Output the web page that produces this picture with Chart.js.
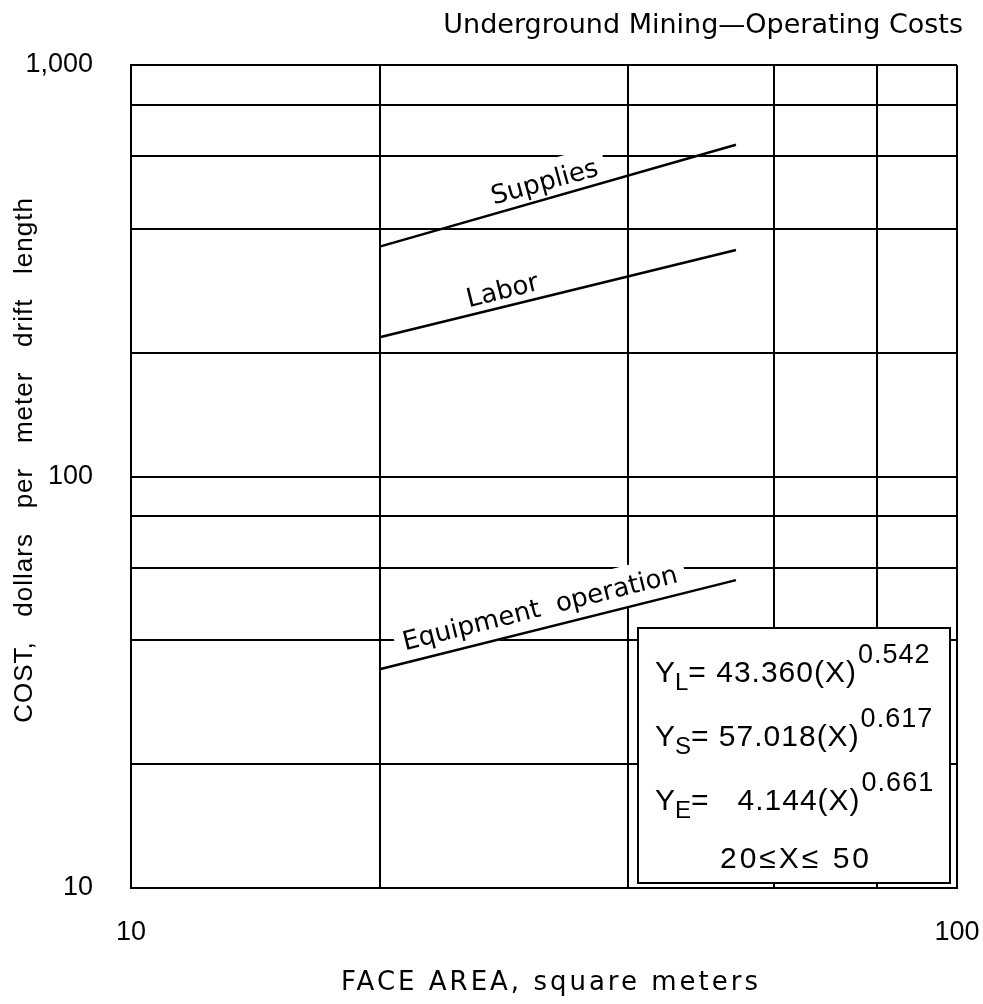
<!DOCTYPE html>
<html>
<head>
<meta charset="utf-8">
<title>Underground Mining—Operating Costs</title>
<script src="https://cdn.jsdelivr.net/npm/chart.js@4.4.1/dist/chart.umd.min.js"></script>
<style>
  html, body { margin: 0; padding: 0; background: #fff; }
  #wrap { width: 983px; height: 1004px; position: relative; }
</style>
</head>
<body>
<div id="wrap"><canvas id="chart"></canvas></div>
<script>
// ─── Data ──────────────────────────────────────────────────
const faceArea  = [20, 54];     // square meters, start / end of each fitted line
const labor     = [218, 355];   // $ per meter drift length
const supplies  = [362, 640];
const equipment = [34, 56];

const xGrid = [10, 20, 40, 60, 80, 100];
const yGrid = [10, 20, 40, 60, 80, 100, 200, 400, 600, 800, 1000];
const xTickLabels = { 10: '10', 100: '100' };
const yTickLabels = { 10: '10', 100: '100', 1000: '1,000' };

// text written along each line: [text, x, y, angle]
const lineLabels = [
  ['Supplies', 31.7, 516, -15.5],
  ['Labor', 28.2, 281, -14],
  ['Equipment  operation', 31.3, 47.5, -14],
];

// equation box: [subscript, body, exponent]
const equations = [
  ['L', '= 43.360(X)', '0.542'],
  ['S', '= 57.018(X)', '0.617'],
  ['E', '=   4.144(X)', '0.661'],
];
const rangeNote = '20\u2264X\u2264 50';

// ─── Styling ───────────────────────────────────────────────
const INK = '#000';
const PLOT_FONT = "'DejaVu Sans', sans-serif";
const HELV = "'Liberation Sans', Arial, sans-serif";

function toPoints(ys) {
  return ys.map((v, i) => ({ x: faceArea[i], y: v }));
}

function lineSet(label, ys) {
  return {
    label,
    data: toPoints(ys),
    showLine: true,
    borderColor: INK,
    borderWidth: 2.5,
    pointRadius: 0,
    fill: false,
  };
}

// labels along the lines, with white backing that breaks the grid
const lineLabelPlugin = {
  id: 'lineLabels',
  beforeDatasetsDraw(chart) {
    const { ctx, scales: { x, y } } = chart;
    ctx.save();
    ctx.font = `26px ${PLOT_FONT}`;
    lineLabels.forEach(([text, xv, yv, ang]) => {
      const px = x.getPixelForValue(xv);
      const py = y.getPixelForValue(yv);
      ctx.save();
      ctx.translate(px, py);
      ctx.rotate(ang * Math.PI / 180);
      const w = ctx.measureText(text).width;
      ctx.fillStyle = '#fff';
      ctx.fillRect(-w / 2 - 8, -22, w + 16, 42);
      ctx.fillStyle = INK;
      ctx.textAlign = 'center';
      ctx.textBaseline = 'middle';
      ctx.fillText(text, 0, 0);
      ctx.restore();
    });
    ctx.restore();
  }
};

// equation box, titles
const annotationPlugin = {
  id: 'annotations',
  afterDatasetsDraw(chart) {
    const { ctx, chartArea: ca } = chart;
    ctx.save();

    // equation box
    const left = ca.right - 319, top = ca.top + 563;
    const right = ca.right - 7, bottom = ca.bottom - 5;
    ctx.fillStyle = '#fff';
    ctx.fillRect(left, top, right - left, bottom - top);
    ctx.strokeStyle = INK;
    ctx.lineWidth = 2;
    ctx.strokeRect(left, top, right - left, bottom - top);

    ctx.fillStyle = INK;
    ctx.textAlign = 'left';
    ctx.textBaseline = 'alphabetic';
    equations.forEach(([sub, body, sup], i) => {
      const base = top + 54 + i * 64;
      let cx = left + 17;
      ctx.font = `30px ${HELV}`;
      ctx.letterSpacing = '0px';
      ctx.fillText('Y', cx, base);
      cx += ctx.measureText('Y').width;
      ctx.font = `24px ${HELV}`;
      ctx.fillText(sub, cx, base + 8);
      cx += ctx.measureText(sub).width;
      ctx.font = `30px ${HELV}`;
      ctx.letterSpacing = '1px';
      ctx.fillText(body, cx, base);
      cx += ctx.measureText(body).width;
      ctx.font = `27px ${HELV}`;
      ctx.fillText(sup, cx + 1, base - 19);
    });
    ctx.font = `30px ${HELV}`;
    ctx.letterSpacing = '3px';
    ctx.textAlign = 'center';
    ctx.fillText(rangeNote, (left + right) / 2 + 2, top + 240);

    // chart title
    ctx.letterSpacing = '0px';
    ctx.font = `27px ${PLOT_FONT}`;
    ctx.textAlign = 'right';
    ctx.fillText('Underground Mining\u2014Operating Costs', 963, 33);

    // x axis title
    ctx.font = `26px ${PLOT_FONT}`;
    ctx.letterSpacing = '3px';
    ctx.textAlign = 'center';
    ctx.fillText('FACE AREA, square meters', 551, 990);

    // y axis title
    ctx.font = `26px ${HELV}`;
    ctx.letterSpacing = '1px';
    ctx.translate(25, 460);
    ctx.rotate(-Math.PI / 2);
    ctx.textBaseline = 'middle';
    ctx.fillText('COST,   dollars   per   meter   drift   length', 0, 0);

    ctx.restore();
  }
};

const gridOpts = { color: INK, lineWidth: 2, drawTicks: false };
const borderOpts = { display: true, color: INK, width: 2 };
const tickFont = { family: HELV, size: 27 };

new Chart(document.getElementById('chart'), {
  type: 'scatter',
  data: {
    datasets: [
      lineSet('Supplies', supplies),
      lineSet('Labor', labor),
      lineSet('Equipment operation', equipment),
    ]
  },
  options: {
    responsive: true,
    maintainAspectRatio: false,
    animation: false,
    layout: { padding: { left: 0, right: 26, top: 65, bottom: 0 } },
    plugins: {
      legend: { display: false },
      tooltip: { enabled: false },
      title: { display: false },
    },
    scales: {
      x: {
        type: 'logarithmic',
        min: 10, max: 100,
        grid: gridOpts,
        border: borderOpts,
        afterBuildTicks: s => { s.ticks = xGrid.map(v => ({ value: v })); },
        afterFit: s => { s.height = 116; s.paddingLeft = 0; s.paddingRight = 0; },
        ticks: {
          autoSkip: false, maxRotation: 0, color: INK, font: tickFont, padding: 28,
          callback: v => xTickLabels[v] || '',
        },
      },
      y: {
        type: 'logarithmic',
        min: 10, max: 1000,
        grid: gridOpts,
        border: borderOpts,
        afterBuildTicks: s => { s.ticks = yGrid.map(v => ({ value: v })); },
        afterFit: s => { s.width = 131; s.paddingTop = 0; s.paddingBottom = 0; },
        ticks: {
          autoSkip: false, color: INK, font: tickFont, padding: 38,
          callback: v => yTickLabels[v] || '',
        },
      },
    },
  },
  plugins: [lineLabelPlugin, annotationPlugin],
});
</script>
</body>
</html>
